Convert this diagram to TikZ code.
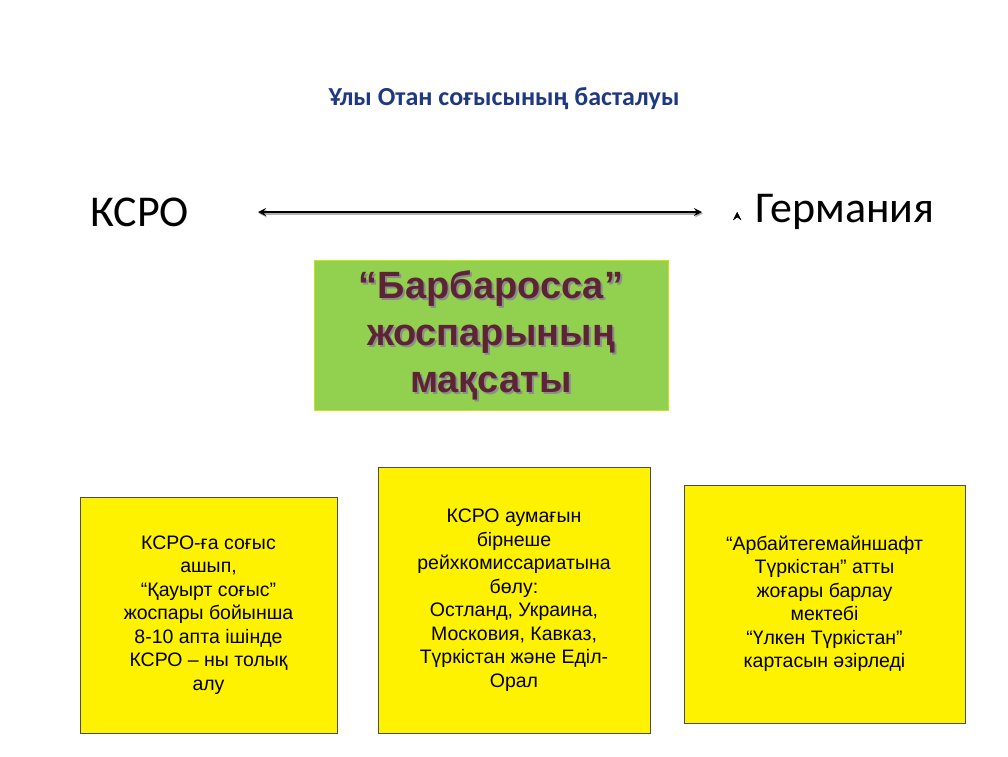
\documentclass[tikz,border=0pt]{standalone}
\usepackage{fontspec}
\setmainfont{Liberation Sans}
\newfontfamily\calib{Carlito}
\usetikzlibrary{positioning}
\definecolor{titleblue}{RGB}{31,56,130}
\definecolor{planred}{RGB}{92,36,52}
\definecolor{leaf}{RGB}{146,208,80}
\tikzset{
  goal/.style={draw=black!70, fill=yellow, thin, align=center, inner sep=0pt,
    font=\fontsize{19.5}{23.5}\selectfont},
}
\begin{document}
\begin{tikzpicture}[x=1pt, y=-1pt, >=stealth]
    \useasboundingbox (0,0) rectangle (1008,756);

    \node[font=\calib\bfseries\fontsize{26}{30}\selectfont, text=titleblue] (title) at (504,99) {Ұлы Отан соғысының басталуы};

    \node[font=\calib\fontsize{44}{50}\selectfont] (ussr) at (140,212) {КСРО};
    \node[font=\calib\fontsize{44}{50}\selectfont] (ger) at (845,212) {Германия};
    \draw[<->, line width=2.5pt, black!30, transform canvas={xshift=1pt,yshift=-1.5pt}] (258,212) -- (702,212);
    \draw[<->, line width=2.5pt] (ussr.east) ++(68,0) coordinate (l) (ger.west) ++(-15,0) coordinate (r);
    \draw[<->, line width=2.5pt] (258,212) -- (702,212);

    \node[draw=yellow!80!green, fill=leaf, minimum width=354, minimum height=150] (plan) at (491,335) {};
    \foreach \dx/\dy/\c in {2/2/black!45, 0/0/planred}
        \node[text=\c, align=center, font=\bfseries\fontsize{38}{47}\selectfont, xshift=\dx, yshift=-\dy] at (plan) {“Барбаросса”\\жоспарының\\мақсаты};

    \node[goal, minimum width=257, minimum height=236] (g1) at (208.5,615) {КСРО-ға соғыс\\ашып,\\“Қауырт соғыс”\\жоспары бойынша\\8-10 апта ішінде\\КСРО – ны толық\\алу};
    \node[goal, minimum width=272, minimum height=266] (g2) at (514,600) {КСРО аумағын\\бірнеше\\рейхкомиссариатына\\бөлу:\\Остланд, Украина,\\Московия, Кавказ,\\Түркістан және Еділ-\\Орал};
    \node[goal, minimum width=281, minimum height=238] (g3) at (824.5,604) {“Арбайтегемайншафт\\Түркістан” атты\\жоғары барлау\\мектебі\\“Үлкен Түркістан”\\картасын әзірледі};
\end{tikzpicture}
\end{document}
